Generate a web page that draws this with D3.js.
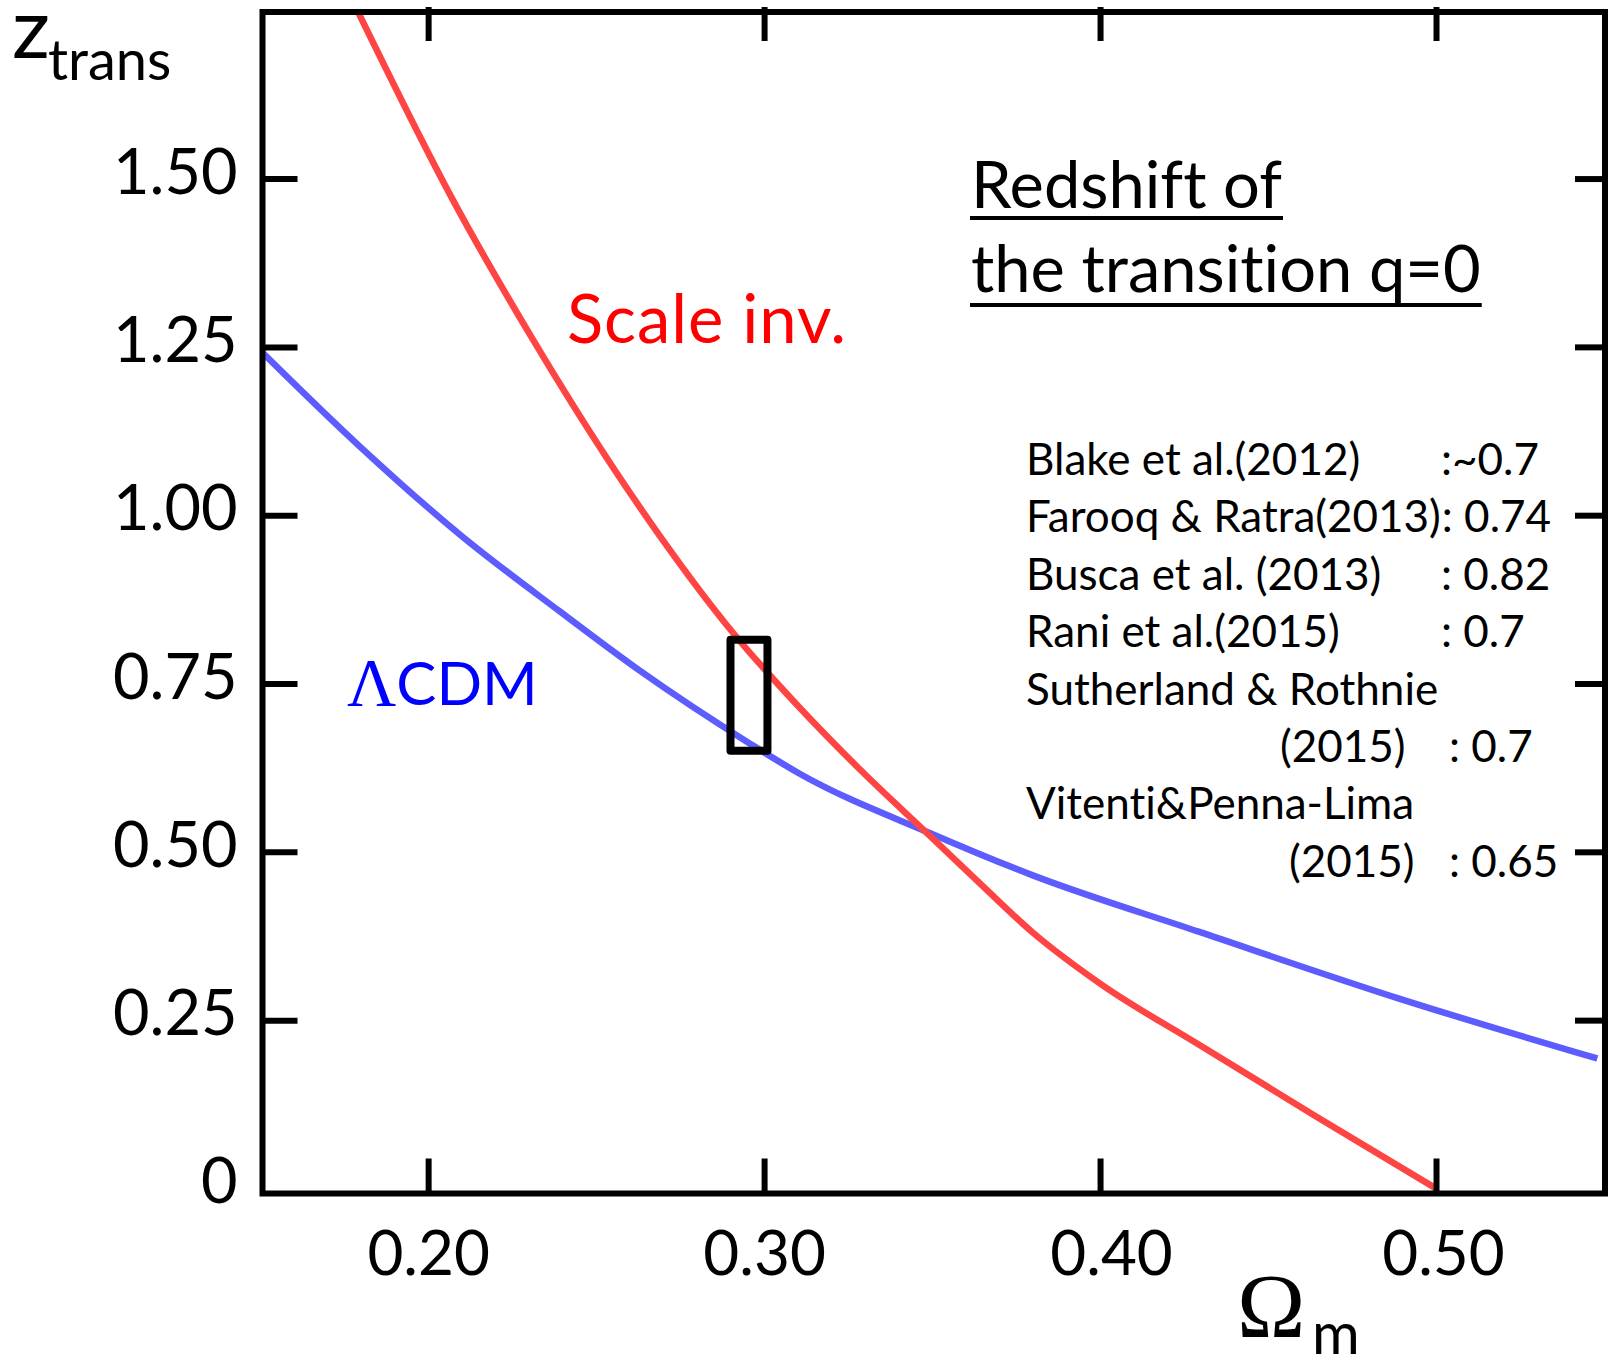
<!DOCTYPE html>
<html>
<head>
<meta charset="utf-8">
<script src="https://cdn.jsdelivr.net/npm/d3@7"></script>
<style>
  body { margin: 0; background: #fff; }
  svg { display: block; }
  text { font-family: Lato, "Open Sans", sans-serif; font-variant-ligatures: none; font-feature-settings: "liga" 0, "clig" 0; }
</style>
</head>
<body>
<svg id="chart" width="1614" height="1365"></svg>
<script>
// Axis ticks
const omegaTicks = [0.20, 0.30, 0.40, 0.50];
const omegaTickLabels = ["0.20", "0.30", "0.40", "0.50"];
const zTicks = [0, 0.25, 0.50, 0.75, 1.00, 1.25, 1.50];
const zTickLabels = ["0", "0.25", "0.50", "0.75", "1.00", "1.25", "1.50"];

// Transition redshift vs matter density, ΛCDM
const lcdmOmega = [0.1506, 0.1797, 0.2095, 0.2392, 0.2630, 0.2957, 0.3106, 0.3493, 0.3800, 0.4296, 0.4890, 0.5480];
const lcdmZ     = [1.242,  1.102,  0.971,  0.857,  0.769,  0.661,  0.616,  0.528,  0.465,  0.381,  0.282,  0.193];

// Transition redshift vs matter density, scale-invariant model
const scaleInvOmega = [0.1792, 0.2074, 0.2313, 0.2541, 0.2690, 0.2908, 0.3106, 0.3284, 0.3493, 0.3651, 0.3800, 0.3998, 0.4296, 0.4643, 0.5000];
const scaleInvZ     = [1.747,  1.468,  1.260,  1.078,  0.969,  0.825,  0.714,  0.623,  0.524,  0.449,  0.380,  0.305,  0.213,  0.107,  0.000];

// Observed range of z_trans around Ωm ≈ 0.3
const boxOmega = [0.290, 0.301];
const boxZ = [0.650, 0.815];

// Published estimates
const refNames = ["Blake et al.(2012)", "Farooq & Ratra(2013)", "Busca et al. (2013)", "Rani et al.(2015)", "Sutherland & Rothnie", "Vitenti&Penna-Lima"];
const refYears = ["", "", "", "", "(2015)", "(2015)"];
const refValues = [":~0.7", ": 0.74", ": 0.82", ": 0.7", ": 0.7", ": 0.65"];

const svg = d3.select("#chart");
const frame = { left: 262.5, top: 12, right: 1605, bottom: 1193.5 };

const x = d3.scaleLinear().domain([0.1507, 0.5503]).range([frame.left, frame.right]);
const y = d3.scaleLinear().domain([-0.0075, 1.7474]).range([frame.bottom, frame.top]);

svg.append("defs").append("clipPath").attr("id", "plotClip")
  .append("rect")
  .attr("x", frame.left).attr("y", frame.top)
  .attr("width", frame.right - frame.left).attr("height", frame.bottom - frame.top);

const line = d3.line().x(d => x(d[0])).y(d => y(d[1])).curve(d3.curveMonotoneX);

const curves = svg.append("g").attr("clip-path", "url(#plotClip)");
curves.append("path")
  .datum(d3.zip(lcdmOmega, lcdmZ))
  .attr("d", line).attr("fill", "none")
  .attr("stroke", "#5c5cff").attr("stroke-width", 6.5);
curves.append("path")
  .datum(d3.zip(scaleInvOmega, scaleInvZ))
  .attr("d", line).attr("fill", "none")
  .attr("stroke", "#ff4444").attr("stroke-width", 6.5);

// Observational box
svg.append("rect")
  .attr("x", x(boxOmega[0])).attr("y", y(boxZ[1]))
  .attr("width", x(boxOmega[1]) - x(boxOmega[0]))
  .attr("height", y(boxZ[0]) - y(boxZ[1]))
  .attr("fill", "none").attr("stroke", "#000").attr("stroke-width", 8)
  .attr("stroke-linejoin", "round");

// Frame
svg.append("rect")
  .attr("x", frame.left).attr("y", frame.top)
  .attr("width", frame.right - frame.left).attr("height", frame.bottom - frame.top)
  .attr("fill", "none").attr("stroke", "#000").attr("stroke-width", 6);

function styleAxis(g, size) {
  g.attr("font-family", "Lato, 'Open Sans', sans-serif").attr("font-size", size);
  g.select(".domain").remove();
  g.selectAll(".tick line").attr("stroke", "#000").attr("stroke-width", 6);
  g.selectAll(".tick text").attr("fill", "#000");
}

// Left axis with labels
const gLeft = svg.append("g").attr("transform", `translate(${frame.left},0)`)
  .call(d3.axisLeft(y).tickValues(zTicks).tickSize(-35).tickPadding(25)
    .tickFormat((d, i) => zTickLabels[i]));
styleAxis(gLeft, 63);
gLeft.selectAll(".tick text").attr("dy", "0.23em");
gLeft.selectAll(".tick").filter(d => d === 0).select("line").remove();

// Bottom axis with labels (the two right-hand labels sit slightly right of their ticks)
const bottomNudge = [0, 0, 11, 7];
const gBottom = svg.append("g").attr("transform", `translate(0,${frame.bottom})`)
  .call(d3.axisBottom(x).tickValues(omegaTicks).tickSize(-35).tickPadding(37)
    .tickFormat((d, i) => omegaTickLabels[i]));
styleAxis(gBottom, 62);
gBottom.selectAll(".tick text").attr("dx", (d, i) => bottomNudge[i]);

// Top and right mirrored ticks
const gTop = svg.append("g").attr("transform", `translate(0,${frame.top})`)
  .call(d3.axisTop(x).tickValues(omegaTicks).tickSize(-29).tickFormat(""));
styleAxis(gTop, 10);
gTop.selectAll(".tick line").attr("y1", -5);

const gRight = svg.append("g").attr("transform", `translate(${frame.right},0)`)
  .call(d3.axisRight(y).tickValues(zTicks.filter(d => d > 0)).tickSize(-30).tickFormat(""));
styleAxis(gRight, 10);

// Axis titles
const zLabel = svg.append("g");
zLabel.append("text").attr("x", 12).attr("y", 58).attr("font-size", 84).text("z");
zLabel.append("text").attr("x", 48).attr("y", 80).attr("font-size", 56).text("trans");

const omLabel = svg.append("g");
omLabel.append("text").attr("x", 1237).attr("y", 1337)
  .style("font-family", "'Liberation Serif', 'DejaVu Serif', serif").attr("font-size", 92).text("Ω");
omLabel.append("text").attr("x", 1312).attr("y", 1354).attr("font-size", 58).text("m");

// Heading with underlines
const headLines = ["Redshift of", "the transition q=0"];
const headBase = [208, 292];
const headUnder = [218, 305];
headLines.forEach((t, i) => {
  const el = svg.append("text").attr("x", 971).attr("y", headBase[i]).attr("font-size", 65).text(t);
  const w = el.node().getComputedTextLength();
  svg.append("line").attr("x1", 970).attr("x2", 971 + w + 1)
    .attr("y1", headUnder[i]).attr("y2", headUnder[i])
    .attr("stroke", "#000").attr("stroke-width", 4);
});

// Curve labels
svg.append("text").attr("x", 567).attr("y", 343).attr("font-size", 67)
  .attr("textLength", 279).attr("lengthAdjust", "spacing")
  .attr("fill", "#ff0000").text("Scale inv.");
const lab = svg.append("text").attr("x", 347).attr("y", 705).attr("fill", "#0000ff");
lab.append("tspan").style("font-family", "'Liberation Serif', 'DejaVu Serif', serif")
  .attr("font-size", 68).text("Λ");
lab.append("tspan").attr("font-size", 60).text("CDM");

// Reference list
const refX = 1026, refTop = 475, refStep = 57.4;
const valueCol = 1441, contValueCol = 1449;
const contIndent = [1280, 1289];
let row = 0, cont = 0;
refNames.forEach((name, i) => {
  const nameEl = svg.append("text").attr("x", refX).attr("y", refTop + row * refStep)
    .attr("font-size", 44).text(name);
  let endX = refX + nameEl.node().getComputedTextLength();
  let baseY = refTop + row * refStep;
  let col = valueCol;
  if (refYears[i]) {
    row += 1;
    baseY = refTop + row * refStep;
    const ix = contIndent[cont++];
    const yr = svg.append("text").attr("x", ix).attr("y", baseY)
      .attr("font-size", 44).text(refYears[i]);
    endX = ix + yr.node().getComputedTextLength();
    col = contValueCol;
  }
  svg.append("text").attr("x", Math.max(col, endX + 1)).attr("y", baseY)
    .attr("font-size", 44).text(refValues[i]);
  row += 1;
});
</script>
</body>
</html>
